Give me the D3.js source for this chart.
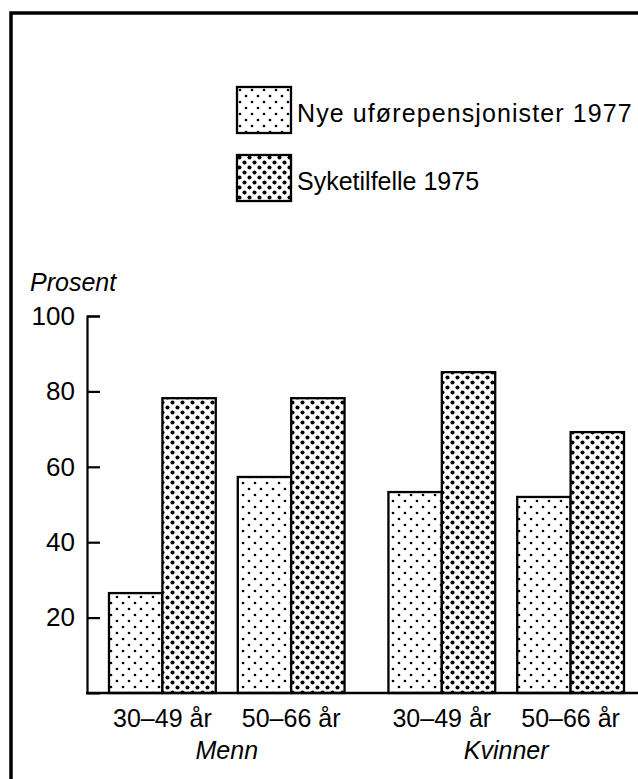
<!DOCTYPE html>
<html>
<head>
<meta charset="utf-8">
<script src="https://cdn.jsdelivr.net/npm/d3@7"></script>
<style>
  html, body { margin: 0; padding: 0; background: #fff; }
  svg { display: block; font-family: "Liberation Sans", Arial, Helvetica, sans-serif; }
</style>
</head>
<body>
<svg id="chart" width="638" height="779"></svg>
<script>
// ---- data ----
const sexes = ["Menn", "Kvinner"];
const ageGroups = ["30–49 år", "50–66 år"];
const seriesNames = ["Nye uførepensjonister 1977", "Syketilfelle 1975"];
// values [sex][age] per series
const nyeUfore1977 = [[26.5, 57.3], [53.3, 52]];
const syketilfelle1975 = [[78.2, 78.2], [85.1, 69.2]];
const yTicks = [20, 40, 60, 80, 100];
const yLabel = "Prosent";

const seriesValues = [nyeUfore1977, syketilfelle1975];
const data = [];
sexes.forEach((s, si) => ageGroups.forEach((a, ai) => seriesNames.forEach((n, ni) => {
  data.push({ sex: s, age: a, series: n, value: seriesValues[ni][si][ai] });
})));

const svg = d3.select("#chart");

// patterns
const defs = svg.append("defs");
const pLight = defs.append("pattern").attr("id", "pLight").attr("patternUnits", "userSpaceOnUse")
  .attr("width", 12).attr("height", 12);
pLight.append("rect").attr("width", 12).attr("height", 12).attr("fill", "#fff");
pLight.append("circle").attr("cx", 3).attr("cy", 3).attr("r", 1.35).attr("fill", "#000");
pLight.append("circle").attr("cx", 9).attr("cy", 9).attr("r", 1.35).attr("fill", "#000");

const pDark = defs.append("pattern").attr("id", "pDark").attr("patternUnits", "userSpaceOnUse")
  .attr("width", 10).attr("height", 10);
pDark.append("rect").attr("width", 10).attr("height", 10).attr("fill", "#fff");
pDark.append("circle").attr("cx", 2.5).attr("cy", 2.5).attr("r", 2.05).attr("fill", "#000");
pDark.append("circle").attr("cx", 7.5).attr("cy", 7.5).attr("r", 2.05).attr("fill", "#000");

const fills = d3.scaleOrdinal().domain(seriesNames).range(["url(#pLight)", "url(#pDark)"]);

// frame
svg.append("path").attr("d", "M11,779 L11,13 L638,13")
  .attr("fill", "none").attr("stroke", "#000").attr("stroke-width", 3.5);

// scales
const y = d3.scaleLinear().domain([0, 100]).range([693, 316]);
const xSex = d3.scaleBand().domain(sexes).range([109, 624]).paddingInner(0.157);
const xAge = d3.scaleBand().domain(ageGroups).range([0, xSex.bandwidth()]).paddingInner(0.171);
const xSer = d3.scaleBand().domain(seriesNames).range([0, xAge.bandwidth()]).padding(0);

// bars
svg.append("g").selectAll("rect").data(data).join("rect")
  .attr("x", d => xSex(d.sex) + xAge(d.age) + xSer(d.series))
  .attr("width", xSer.bandwidth())
  .attr("y", d => y(d.value))
  .attr("height", d => y(0) - y(d.value))
  .attr("fill", d => fills(d.series))
  .attr("stroke", "#000").attr("stroke-width", 2.3);

// y axis
const yAxis = d3.axisLeft(y).tickValues(yTicks).tickSize(-13).tickPadding(12).tickFormat(d3.format("d"));
const gy = svg.append("g").attr("transform", "translate(87,0)").call(yAxis);
gy.selectAll("path, line").attr("stroke", "#000").attr("stroke-width", 2.2);
gy.selectAll("text").attr("font-size", 26).attr("fill", "#000")
  .attr("font-family", "'Liberation Sans', Arial, sans-serif");

// baseline
svg.append("line").attr("x1", 86).attr("x2", 638).attr("y1", y(0)).attr("y2", y(0))
  .attr("stroke", "#000").attr("stroke-width", 2.5);

// y label
svg.append("text").attr("x", 30).attr("y", 291).attr("font-size", 25).attr("font-style", "italic")
  .text(yLabel);

// age labels
const catLabels = [];
sexes.forEach(s => ageGroups.forEach(a => catLabels.push({ sex: s, age: a })));
svg.append("g").selectAll("text").data(catLabels).join("text")
  .attr("x", d => xSex(d.sex) + xAge(d.age) + xAge.bandwidth() / 2)
  .attr("y", 727).attr("text-anchor", "middle").attr("font-size", 25)
  .text(d => d.age);

// sex labels
svg.append("g").selectAll("text").data(sexes).join("text")
  .attr("x", d => xSex(d) + xSex.bandwidth() / 2)
  .attr("y", 759).attr("text-anchor", "middle").attr("font-size", 25).attr("font-style", "italic")
  .text(d => d);

// legend
const lg = svg.append("g").selectAll("g").data(seriesNames).join("g")
  .attr("transform", (d, i) => `translate(237,${87 + i * 68})`);
lg.append("rect").attr("width", 54).attr("height", 46)
  .attr("fill", d => fills(d)).attr("stroke", "#000").attr("stroke-width", 2.3);
lg.append("text").attr("x", 60).attr("y", 35).attr("font-size", 25)
  .attr("letter-spacing", (d, i) => i === 0 ? 1.1 : 0)
  .text(d => d);
</script>
</body>
</html>
